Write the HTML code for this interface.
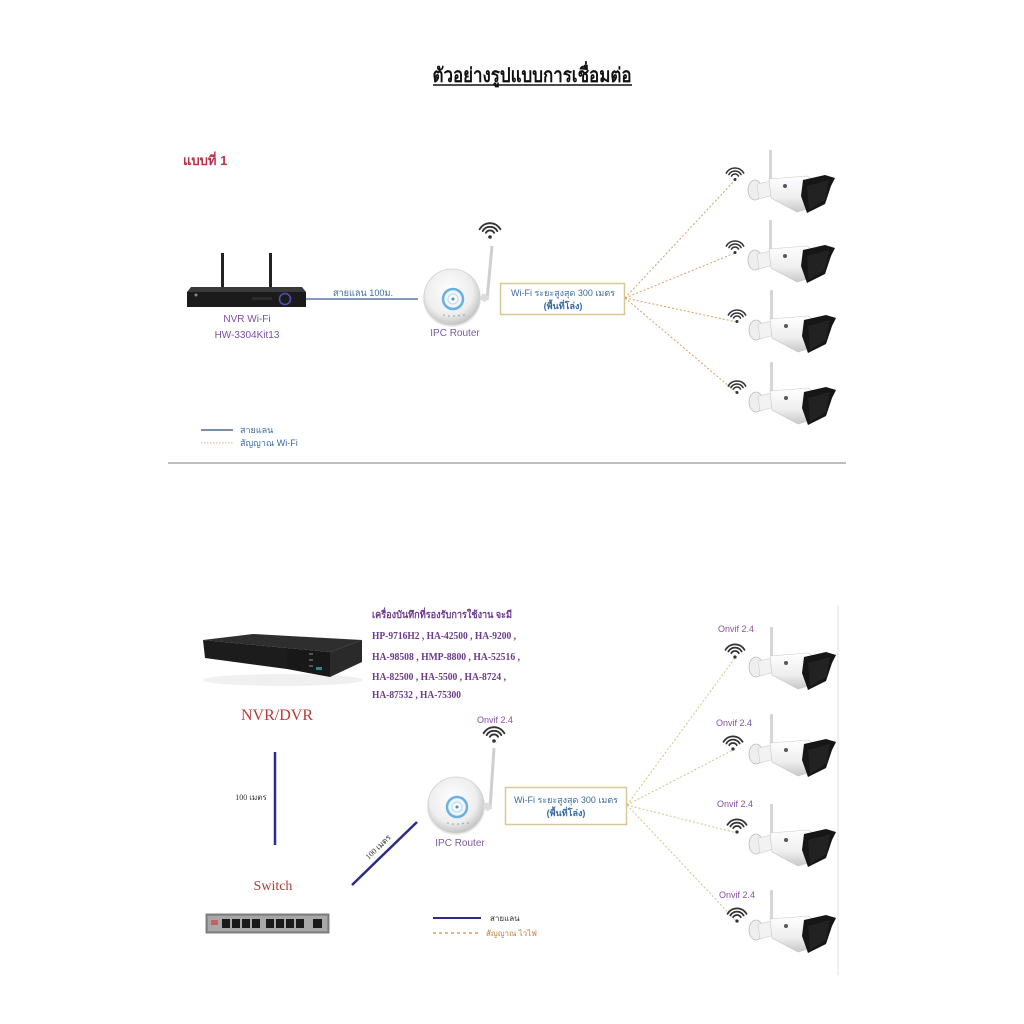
<!DOCTYPE html>
<html><head><meta charset="utf-8"><style>
html,body{margin:0;padding:0;background:#fff;}
svg{display:block;}
.s{font-family:"Liberation Sans","DejaVu Sans",sans-serif;}
.r{font-family:"Liberation Serif","DejaVu Serif",serif;}
</style></head><body>
<svg width="1024" height="1024" viewBox="0 0 1024 1024" xmlns="http://www.w3.org/2000/svg">
<defs>
<linearGradient id="bg" x1="0" y1="0" x2="0" y2="1"><stop offset="0" stop-color="#ffffff"/><stop offset="0.6" stop-color="#eeeeee"/><stop offset="1" stop-color="#c8c8c8"/></linearGradient>
<radialGradient id="rg" cx="0.45" cy="0.4" r="0.6"><stop offset="0" stop-color="#ffffff"/><stop offset="0.7" stop-color="#eeeeee"/><stop offset="1" stop-color="#c4c4c4"/></radialGradient>
<symbol id="cam" viewBox="0 0 90 64">
<rect x="24" y="0" width="3" height="34" fill="#d6d6d6"/>
<ellipse cx="10" cy="40" rx="7" ry="10" fill="#eeeeee" stroke="#bbbbbb" stroke-width="0.8"/>
<polygon points="12,34 26,31 28,45 14,49" fill="#f2f2f2" stroke="#cccccc" stroke-width="0.6"/>
<polygon points="24,29 62,26 72,32 66,58 52,62 26,48" fill="url(#bg)" stroke="#c8c8c8" stroke-width="0.6"/>
<polygon points="58,30 80,25 90,28 86,36 80,54 62,63 56,46" fill="#161616"/>
<polygon points="62,36 84,30 80,50 64,60" fill="#222"/>
<circle cx="40" cy="36" r="2" fill="#556"/>
</symbol>
<symbol id="wf" viewBox="0 4 20 15">
<g fill="none" stroke="#333" stroke-width="1.6" stroke-linecap="round">
<path d="M1.34,10 A10,10 0 0 1 18.66,10"/>
<path d="M3.94,11.5 A7,7 0 0 1 16.06,11.5"/>
<path d="M6.54,13 A4,4 0 0 1 13.46,13"/>
</g>
<circle cx="10" cy="16.5" r="1.5" fill="#333"/>
</symbol>
<g id="router">
<ellipse cx="0" cy="2" rx="29" ry="28" fill="#d8d8d8" opacity="0.5"/>
<circle cx="0" cy="0" r="28" fill="url(#rg)" stroke="#d0d0d0" stroke-width="0.8"/>
<circle cx="1" cy="2" r="10" fill="#eef5fb" stroke="#6ab0e0" stroke-width="2.5"/>
<circle cx="1" cy="2" r="5" fill="#f8fbff" stroke="#b8d8f0" stroke-width="1"/>
<circle cx="1" cy="2" r="1.5" fill="#4a90c8"/>
<g fill="#999"><circle cx="-8" cy="18" r="0.8"/><circle cx="-3" cy="19" r="0.8"/><circle cx="2" cy="19" r="0.8"/><circle cx="7" cy="18.5" r="0.8"/><circle cx="12" cy="18" r="0.8"/></g>
</g>
</defs>

<!-- Title -->
<text x="532" y="82" text-anchor="middle" class="r" font-size="20" font-weight="bold" fill="#111" textLength="199" lengthAdjust="spacingAndGlyphs">ตัวอย่างรูปแบบการเชื่อมต่อ</text>
<line x1="433" y1="85" x2="632" y2="85" stroke="#111" stroke-width="1.5"/>

<!-- ===== Section 1 ===== -->
<text x="183" y="165" class="s" font-size="13" font-weight="bold" fill="#b8324a">แบบที่ 1</text>

<!-- NVR WiFi -->
<rect x="221" y="253" width="3" height="37" fill="#222"/>
<rect x="269" y="253" width="3" height="37" fill="#222"/>
<polygon points="191,287 302,287 306,292 187,292" fill="#3a3a3a"/>
<rect x="187" y="292" width="119" height="15" fill="#1b1b1b"/>
<circle cx="285" cy="299" r="5.5" fill="none" stroke="#4a50b8" stroke-width="1.6"/>
<rect x="252" y="297" width="20" height="3" fill="#2c2c2c"/>
<circle cx="196" cy="295" r="1.5" fill="#888"/>
<text x="247" y="322" text-anchor="middle" class="s" font-size="10" fill="#7b4fa0">NVR Wi-Fi</text>
<text x="247" y="338" text-anchor="middle" class="s" font-size="10" fill="#7b4fa0">HW-3304Kit13</text>

<!-- LAN line -->
<line x1="306" y1="299" x2="418" y2="299" stroke="#5a7aa0" stroke-width="1.5"/>
<text x="333" y="296" class="s" font-size="9.5" fill="#3a6aa0" textLength="60" lengthAdjust="spacingAndGlyphs">สายแลน 100ม.</text>

<!-- Router 1 -->
<line x1="487" y1="300" x2="492" y2="246" stroke="#cfcfcf" stroke-width="3"/>
<use href="#router" transform="translate(452,297)"/>
<rect x="481" y="294" width="7" height="7" rx="2" fill="#ddd" transform="rotate(30 484 297)"/>
<use href="#wf" x="478" y="222" width="24" height="18"/>
<text x="455" y="336" text-anchor="middle" class="s" font-size="10" fill="#7b5a9a">IPC Router</text>

<!-- Box 1 -->
<rect x="500.5" y="283.5" width="124" height="31" fill="#fff" stroke="#d8c898" stroke-width="1.5"/>
<text x="563" y="296" text-anchor="middle" class="s" font-size="9" fill="#3a6aa0" textLength="104" lengthAdjust="spacingAndGlyphs">Wi-Fi ระยะสูงสุด 300 เมตร</text>
<text x="563" y="309" text-anchor="middle" class="s" font-size="9" fill="#3a6aa0" font-weight="bold">(พื้นที่โล่ง)</text>

<!-- dotted lines 1 -->
<g stroke="#d8a060" stroke-width="1" stroke-dasharray="2,2" fill="none">
<line x1="625" y1="298" x2="735" y2="180"/>
<line x1="625" y1="298" x2="735" y2="253"/>
<line x1="625" y1="298" x2="737" y2="322"/>
<line x1="625" y1="298" x2="737" y2="393"/>
</g>
<use href="#wf" x="725" y="167" width="20" height="15"/>
<use href="#wf" x="725" y="240" width="20" height="15"/>
<use href="#wf" x="727" y="309" width="20" height="15"/>
<use href="#wf" x="727" y="380" width="20" height="15"/>

<use href="#cam" x="745" y="150" width="90" height="64"/>
<use href="#cam" x="745" y="220" width="90" height="64"/>
<use href="#cam" x="746" y="290" width="90" height="64"/>
<use href="#cam" x="746" y="362" width="90" height="64"/>

<!-- legend 1 -->
<line x1="201" y1="430" x2="233" y2="430" stroke="#4a6a90" stroke-width="1.5"/>
<text x="240" y="433" class="s" font-size="9" fill="#3a6aa0">สายแลน</text>
<line x1="201" y1="443" x2="233" y2="443" stroke="#d8b080" stroke-width="1" stroke-dasharray="1.5,1.5"/>
<text x="240" y="446" class="s" font-size="9" fill="#3a6aa0">สัญญาณ Wi-Fi</text>

<line x1="168" y1="463" x2="846" y2="463" stroke="#aaaaaa" stroke-width="1.5"/>

<!-- ===== Section 2 ===== -->
<!-- NVR/DVR -->
<ellipse cx="283" cy="680" rx="80" ry="6" fill="#f0f0f0"/>
<polygon points="203,640 253,634 362,640 330,652 287,648" fill="#2e2e2e"/>
<polygon points="203,640 287,648 287,669 205,658" fill="#1c1c1c"/>
<polygon points="287,648 330,652 330,677 287,669" fill="#181818"/>
<polygon points="330,652 362,640 362,662 330,677" fill="#2a2a2a"/>
<g fill="#555"><rect x="309" y="653" width="4" height="2"/><rect x="309" y="659" width="4" height="2"/><rect x="309" y="665" width="4" height="2"/></g>
<rect x="316" y="667" width="6" height="3" fill="#2a8a8a"/>
<text x="277" y="720" text-anchor="middle" class="r" font-size="16" fill="#b83a3a">NVR/DVR</text>

<!-- text block -->
<g class="r" font-size="10" font-weight="bold" fill="#6b3c8c">
<text x="372" y="618" textLength="140" lengthAdjust="spacingAndGlyphs">เครื่องบันทึกที่รองรับการใช้งาน จะมี</text>
<text x="372" y="639" textLength="144" lengthAdjust="spacingAndGlyphs">HP-9716H2 , HA-42500 , HA-9200 ,</text>
<text x="372" y="660" textLength="148" lengthAdjust="spacingAndGlyphs">HA-98508 , HMP-8800 , HA-52516 ,</text>
<text x="372" y="680" textLength="134" lengthAdjust="spacingAndGlyphs">HA-82500 , HA-5500 , HA-8724 ,</text>
<text x="372" y="698" textLength="89" lengthAdjust="spacingAndGlyphs">HA-87532 , HA-75300</text>
</g>

<!-- vertical line -->
<line x1="275" y1="752" x2="275" y2="845" stroke="#2c2c88" stroke-width="2.5"/>
<text x="251" y="800" text-anchor="middle" class="r" font-size="8" fill="#333">100 เมตร</text>

<!-- Switch -->
<text x="273" y="890" text-anchor="middle" class="r" font-size="14" fill="#b03a3a">Switch</text>
<rect x="206" y="914" width="123" height="19" fill="#8c8c8c" stroke="#666" stroke-width="0.8"/>
<rect x="208" y="916" width="119" height="15" fill="#a8a8a8"/>
<g fill="#1a1a1a">
<rect x="222" y="919" width="8" height="9"/><rect x="232" y="919" width="8" height="9"/><rect x="242" y="919" width="8" height="9"/><rect x="252" y="919" width="8" height="9"/>
<rect x="266" y="919" width="8" height="9"/><rect x="276" y="919" width="8" height="9"/><rect x="286" y="919" width="8" height="9"/><rect x="296" y="919" width="8" height="9"/>
<rect x="313" y="919" width="9" height="9"/>
</g>
<rect x="211" y="920" width="7" height="5" fill="#c86060"/>

<!-- diagonal -->
<line x1="352" y1="885" x2="417" y2="822" stroke="#2c2c88" stroke-width="2.5"/>
<text x="0" y="0" transform="translate(380,849) rotate(-44)" text-anchor="middle" class="r" font-size="8" fill="#333">100 เมตร</text>

<!-- Router 2 -->
<line x1="490" y1="809" x2="494" y2="748" stroke="#cfcfcf" stroke-width="3"/>
<use href="#router" transform="translate(456,805)"/>
<rect x="484" y="803" width="7" height="7" rx="2" fill="#ddd" transform="rotate(30 487 806)"/>
<use href="#wf" x="482" y="726" width="24" height="18"/>
<text x="495" y="723" text-anchor="middle" class="s" font-size="9" fill="#8a50a8">Onvif 2.4</text>
<text x="460" y="846" text-anchor="middle" class="s" font-size="10" fill="#7b5a9a">IPC Router</text>

<!-- Box 2 -->
<rect x="505.5" y="787.5" width="121" height="37" fill="#fff" stroke="#d8c898" stroke-width="1.5"/>
<text x="566" y="803" text-anchor="middle" class="s" font-size="9" fill="#3a6aa0" textLength="104" lengthAdjust="spacingAndGlyphs">Wi-Fi ระยะสูงสุด 300 เมตร</text>
<text x="566" y="816" text-anchor="middle" class="s" font-size="9" fill="#3a6aa0" font-weight="bold">(พื้นที่โล่ง)</text>

<!-- dotted lines 2 -->
<g stroke="#d8c080" stroke-width="1" stroke-dasharray="2,2" fill="none">
<line x1="627" y1="805" x2="735" y2="658"/>
<line x1="627" y1="805" x2="733" y2="750"/>
<line x1="627" y1="805" x2="737" y2="833"/>
<line x1="627" y1="805" x2="737" y2="922"/>
</g>
<use href="#wf" x="724" y="643" width="22" height="17"/>
<use href="#wf" x="722" y="735" width="22" height="17"/>
<use href="#wf" x="726" y="818" width="22" height="17"/>
<use href="#wf" x="726" y="907" width="22" height="17"/>
<g class="s" font-size="9" fill="#8a50a8" text-anchor="middle">
<text x="736" y="632">Onvif 2.4</text>
<text x="734" y="726">Onvif 2.4</text>
<text x="735" y="807">Onvif 2.4</text>
<text x="737" y="898">Onvif 2.4</text>
</g>

<use href="#cam" x="746" y="620" width="90" height="78" preserveAspectRatio="none"/>
<use href="#cam" x="746" y="708" width="90" height="76" preserveAspectRatio="none"/>
<use href="#cam" x="746" y="797" width="90" height="78" preserveAspectRatio="none"/>
<use href="#cam" x="746" y="885" width="90" height="74" preserveAspectRatio="none"/>

<line x1="838" y1="605" x2="838" y2="975" stroke="#e0e0e0" stroke-width="1"/>

<!-- legend 2 -->
<line x1="433" y1="918" x2="481" y2="918" stroke="#2c2c88" stroke-width="2"/>
<text x="490" y="921" class="s" font-size="8" fill="#333">สายแลน</text>
<line x1="433" y1="933" x2="480" y2="933" stroke="#e0a050" stroke-width="1.5" stroke-dasharray="3,3"/>
<text x="486" y="936" class="s" font-size="8" fill="#c08040">สัญญาณ ไวไฟ</text>
</svg>
</body></html>
